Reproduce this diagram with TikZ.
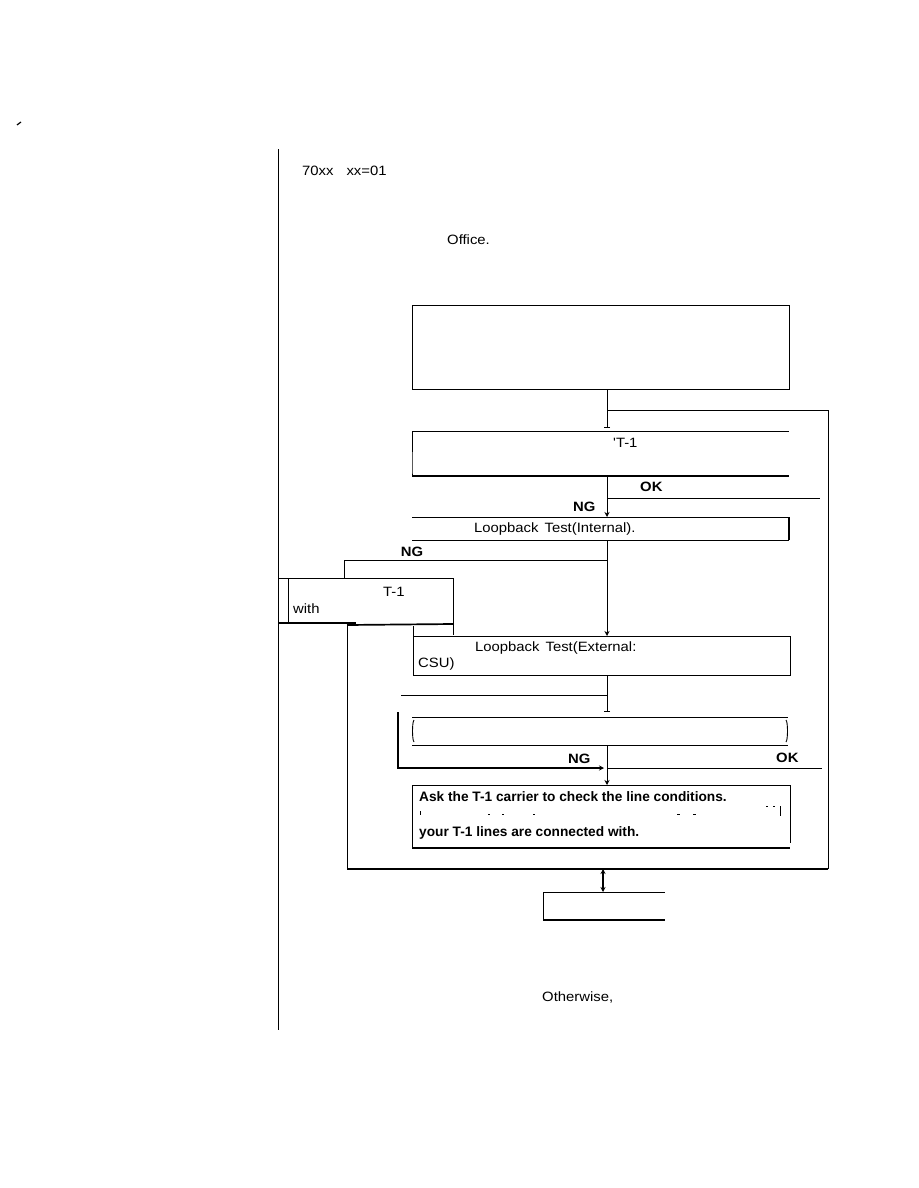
\documentclass[tikz,border=0pt]{standalone}
\usepackage{fontspec}
\usetikzlibrary{arrows.meta,calc}
\newfontfamily\rf[FakeStretch=1.1]{Liberation Sans}
\newfontfamily\af{Liberation Sans}
\begin{document}
\begin{tikzpicture}[x=1pt,y=-1pt,
  ln/.style={line width=0.9pt},
  thk/.style={line width=1.7pt},
  arr/.style={-{Stealth[length=5pt,width=5pt]}},
  dbl/.style={{Stealth[length=5pt,width=5pt]}-{Stealth[length=5pt,width=5pt]}},
  tickend/.style={-{Bar[width=6pt,line width=0.9pt]}},
  boxn/.style={draw=none,inner sep=0pt,outer sep=0pt},
  txt/.style={inner sep=0pt,anchor=west,text height=9.7pt,text depth=0pt,font=\rf\fontsize{13.5}{16}\selectfont},
  btxt/.style={txt,font=\rf\bfseries\fontsize{13.5}{16}\selectfont},
  atxt/.style={txt,font=\af\bfseries\fontsize{13.7}{16}\selectfont}]
\useasboundingbox (0,0) rectangle (918,1188);
\fill[white] (0,0) rectangle (918,1188);

% page rule and stray mark
\coordinate (ruleT) at (278,149);
\coordinate (ruleB) at (278,1030);
\draw[ln] (ruleT) -- (ruleB);
\coordinate (mk1) at (17,125);
\coordinate (mk2) at (21,122);
\draw[line width=1.2pt] (mk1) -- (mk2);

% header texts
\node[txt] (t70) at (302,171) {70xx\hspace{13pt}xx=01};
\node[txt] (toff) at (447,240) {Office.};

% boxes (geometry only)
\node[boxn,minimum width=377pt,minimum height=84pt] (bA) at (600.5,347) {};
\node[boxn,minimum width=377pt,minimum height=45pt] (bB) at (600.5,453.5) {};
\node[boxn,minimum width=377pt,minimum height=23pt] (bC) at (600.5,528.5) {};
\node[boxn,minimum width=165pt,minimum height=46pt] (bE) at (370.5,601) {};
\node[boxn,minimum width=377pt,minimum height=39pt] (bD) at (601.5,655.5) {};
\node[boxn,minimum width=376pt,minimum height=28pt] (bF) at (600,731) {};
\node[boxn,minimum width=378pt,minimum height=63pt] (bG) at (601,816.5) {};
\node[boxn,minimum width=122pt,minimum height=28pt] (bH) at (604,906) {};

% box A: full rectangle
\draw[ln] (bA.north west) rectangle (bA.south east);
% box B
\draw[ln] (bB.south west) -- ([yshift=4pt]bB.south west |- bB.south) -- (bB.north west) -- (bB.north east);
\draw[thk] (bB.south west) -- (bB.south east);
% box C
\draw[ln] (bC.north west) -- (bC.north east);
\draw[ln] (bC.south west) -- (bC.south east);
\draw[thk] (bC.north east) -- (bC.south east);
% box E (left)
\coordinate (eL1) at (288,578);
\coordinate (eL2) at (288,623);
\coordinate (eB1) at (278,623);
\coordinate (eB2) at (356,623);
\coordinate (eR2) at (453,635);
\draw[ln] (bE.north west -| ruleT) -- (bE.north east) -- (eR2);
\draw[ln] (eL1) -- (eL2);
\draw[thk] (eB1) -- (eB2);
\coordinate (lu) at (347,625);
\draw[thk] (lu) -- (bE.south east);
% box D
\coordinate (dL0) at (413,626);
\draw[ln] (dL0) -- (bD.south west) -- (bD.south east) -- (bD.north east) -- (bD.north west);
% box F
\draw[ln] (bF.north west) -- (bF.north east);
\draw[ln] (bF.south west) -- (bF.south east);
\draw[ln] ([xshift=2pt,yshift=-3pt]bF.north west) .. controls ([yshift=-5pt]bF.north west) and ([yshift=5pt]bF.south west) .. ([xshift=2pt,yshift=3pt]bF.south west);
\draw[ln] ([xshift=-2pt,yshift=-3pt]bF.north east) .. controls ([yshift=-5pt]bF.north east) and ([yshift=5pt]bF.south east) .. ([xshift=-2pt,yshift=3pt]bF.south east);
% box G
\draw[ln] (bG.south west) -- (bG.north west) -- (bG.north east) -- ([yshift=5pt]bG.south east);
\draw[thk] (bG.south west) -- (bG.south east);
% faint middle line marks in box G
\foreach \mx/\mw in {488/1.5,502/1.5,533/1.5,677/3,693/3}{
  \fill (\mx,814) rectangle ++(\mw,1.2);
}
\foreach \mx/\mw in {766/2,773/2}{
  \fill (\mx,806) rectangle ++(\mw,0.8);
}
\coordinate (gm1) at (780,806);
\coordinate (gm2) at (780,816);
\draw[ln] (gm1) -- (gm2);
\coordinate (gm3) at (420,811);
\coordinate (gm4) at (420,815);
\draw[line width=0.6pt] (gm3) -- (gm4);
% box H
\draw[ln] (bH.south west) -- (bH.north west) -- (bH.north east);
\draw[thk] (bH.south west) -- (bH.south east);

% main column
\coordinate (col) at (607,0);
\draw[ln,tickend,shorten >=3pt] (bA.south -| col) -- (bB.north -| col);
\draw[ln,arr] (bB.south -| col) -- (bC.north -| col);
\draw[ln,arr] (bC.south -| col) -- (bD.north -| col);
\draw[ln,tickend,shorten >=5pt] (bD.south -| col) -- (bF.north -| col);
\draw[ln,arr] (bF.south -| col) -- (bG.north -| col);

% loop on the right and bottom
\coordinate (lt) at (607,410);
\coordinate (rt) at (828,410);
\coordinate (rb) at (828,869);
\coordinate (lb) at (347,869);
\draw[ln] (lt) -- (rt) -- (rb);
\draw[thk] (rb) -- (lb);
\draw[ln] (lb) -- (lu);

% OK branch after box B
\coordinate (ok1a) at (607,498);
\coordinate (ok1b) at (820,498);
\draw[ln] (ok1a) -- (ok1b);
\node[btxt] (lok1) at (640,487) {OK};
\node[btxt] (lng1) at (573,507) {NG};
\node[txt] (tT1) at (613,443) {'T-1};

% text box C
\node[txt] (tC) at (474,528) {Loopback\hspace{6pt}Test(Internal).};

% NG branch from box C to box E
\coordinate (ngA) at (607,560);
\coordinate (ngB) at (344,560);
\draw[ln] (ngA) -- (ngB) -- (ngB |- bE.north);
\node[btxt,anchor=center] (lng2) at (412,552) {NG};
\node[txt] (tE1) at (383,592) {T-1};
\node[txt] (tE2) at (293,609) {with};

% text box D
\node[txt] (tD1) at (475,647) {Loopback\hspace{6pt}Test(External:};
\node[txt] (tD2) at (418,663) {CSU)};

% line into column after D
\coordinate (jD) at (401,695);
\draw[ln] (jD) -- (jD -| col);

% NG / OK after box F
\coordinate (fL1) at (398,712);
\coordinate (fL2) at (398,768);
\draw[thk,arr] (fL1) -- (fL2) -- ([xshift=-3pt]fL2 -| col);
\coordinate (ok2a) at (607,768);
\coordinate (ok2b) at (822,768);
\draw[ln] (ok2a) -- (ok2b);
\node[btxt] (lng3) at (568,759) {NG};
\node[btxt] (lok2) at (776,758) {OK};

% text box G
\node[atxt] (tG1) at (419,797) {Ask the T-1 carrier to check the line conditions.};
\node[atxt] (tG2) at (419,832) {your T-1 lines are connected with.};

% bottom double arrow
\coordinate (bcol) at (603,0);
\draw[thk,dbl] (lb -| bcol) -- (bH.north -| bcol);

\node[txt] (tOth) at (542,997) {Otherwise,};
\end{tikzpicture}
\end{document}
